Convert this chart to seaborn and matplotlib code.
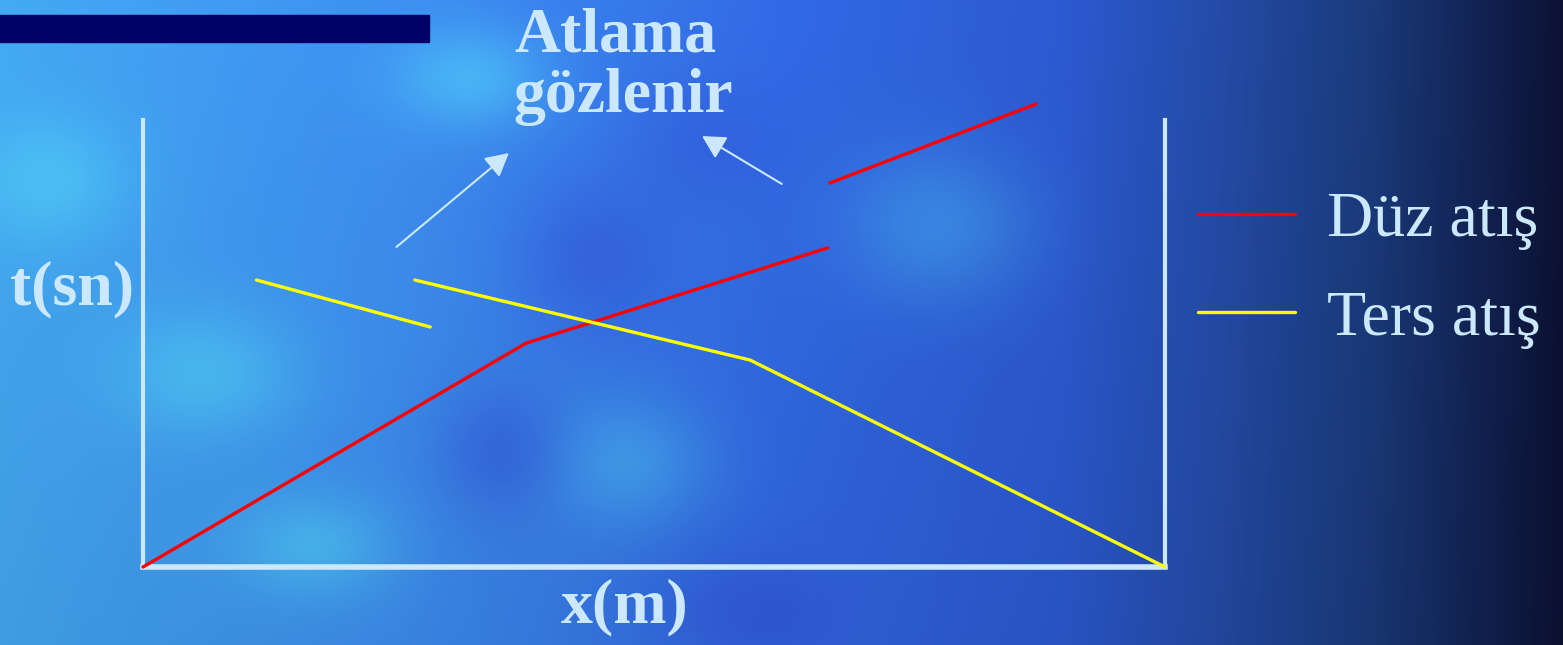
import numpy as np
import pandas as pd
import matplotlib
matplotlib.use("Agg")
import matplotlib.pyplot as plt
from matplotlib.patches import Rectangle
from matplotlib.lines import Line2D
import seaborn as sns

# ---- data (chart units: x 0..100 along x(m), t 0..100 along t(sn)) ----
duz_x1 = [0.0, 37.5, 67.0]
duz_t1 = [0.0, 50.1, 71.4]
duz_x2 = [67.2, 87.4]
duz_t2 = [85.9, 103.6]
ters_x1 = [11.1, 28.1]
ters_t1 = [64.2, 53.7]
ters_x2 = [26.6, 59.4, 100.0]
ters_t2 = [64.2, 46.3, 0.0]
series_labels = ["Düz atış", "Ters atış"]
x_label = "x(m)"
y_label = "t(sn)"
note_lines = ["Atlama", "gözlenir"]
arrow1_from = (24.8, 71.6)
arrow1_to = (35.8, 92.6)
arrow2_from = (62.5, 85.7)
arrow2_to = (54.7, 96.4)

TXT = "#cce8ff"
RED = "#ff0000"
YEL = "#ffff00"

sns.set_theme(style="white")
plt.rcParams["font.family"] = ["Liberation Serif", "DejaVu Serif"]

W, H = 1563, 645
fig = plt.figure(figsize=(W / 100, H / 100), dpi=100)

# ---- background (decorative gradient) ----
ax_bg = fig.add_axes([0, 0, 1, 1])
ax_bg.set_axis_off()
nx, ny = 520, 215
gx = np.linspace(0, 1, nx)
gy = np.linspace(0, 1, ny)
X, Y = np.meshgrid(gx, gy)
stops = [0.0, 0.25, 0.5, 0.68, 0.78, 0.88, 0.95, 1.0]
cr = [0x44, 0x3e, 0x32, 0x2c, 0x24, 0x1a, 0x12, 0x0c]
cg = [0xaa, 0x90, 0x6a, 0x5a, 0x4c, 0x3a, 0x22, 0x12]
cb = [0xf4, 0xf2, 0xe6, 0xd2, 0xa8, 0x7a, 0x52, 0x34]
img = np.zeros((ny, nx, 3))
for i, c in enumerate([cr, cg, cb]):
    img[:, :, i] = np.interp(X, stops, c) / 255.0

def blob(cx, cy, sx, sy):
    return np.exp(-(((X - cx) / sx) ** 2 + ((Y - cy) / sy) ** 2))

light = (blob(0.03, 0.28, 0.05, 0.1) + blob(0.13, 0.58, 0.06, 0.1)
         + blob(0.2, 0.85, 0.05, 0.08) + blob(0.3, 0.12, 0.05, 0.08)
         + blob(0.6, 0.35, 0.06, 0.12) * 0.6 + blob(0.4, 0.72, 0.05, 0.1) * 0.7)
dark = (blob(0.38, 0.4, 0.05, 0.12) + blob(0.32, 0.7, 0.04, 0.1)
        + blob(0.48, 0.95, 0.06, 0.1) + blob(0.45, 0.22, 0.05, 0.1) * 0.7)
cyan = np.array([0.33, 0.85, 1.0])
deep = np.array([0.2, 0.3, 0.85])
la = np.clip(light * 0.55, 0, 0.6)[:, :, None]
da = np.clip(dark * 0.45, 0, 0.5)[:, :, None]
img = img * (1 - la) + cyan * la
img = img * (1 - da) + deep * da
img = np.clip(img * (1.0 - 0.08 * Y)[:, :, None], 0, 1)
ax_bg.imshow(img, extent=[0, 1, 0, 1], aspect="auto", origin="upper", zorder=0)
ax_bg.set_xlim(0, 1)
ax_bg.set_ylim(0, 1)
ax_bg.add_patch(Rectangle((0, 1 - 42 / H), 429 / W, 27 / H, color="#000066", zorder=2))

# ---- chart ----
left, right = 143 / W, 1165 / W
bottom, top = 1 - 567 / H, 1 - 120 / H
ax = fig.add_axes([left, bottom, right - left, top - bottom])
ax.set_facecolor("none")

rows = []
for xs, ts, lab, seg in [
    (duz_x1, duz_t1, series_labels[0], "d1"),
    (duz_x2, duz_t2, series_labels[0], "d2"),
    (ters_x1, ters_t1, series_labels[1], "t1"),
    (ters_x2, ters_t2, series_labels[1], "t2"),
]:
    for xv, tv in zip(xs, ts):
        rows.append({"x": xv, "t": tv, "seri": lab, "seg": seg})
df = pd.DataFrame(rows)

sns.lineplot(data=df, x="x", y="t", hue="seri", units="seg", estimator=None,
             sort=False, palette={series_labels[0]: RED, series_labels[1]: YEL},
             linewidth=2.4, legend=False, ax=ax)
for ln in ax.lines:
    ln.set_clip_on(False)
    ln.set_zorder(5)

ax.set_xlim(0, 100)
ax.set_ylim(0, 100)
ax.set_xticks([])
ax.set_yticks([])
ax.set_xlabel("")
ax.set_ylabel("")
ax.spines["top"].set_visible(False)
for s, lw in [("left", 3), ("right", 3), ("bottom", 4)]:
    ax.spines[s].set_color(TXT)
    ax.spines[s].set_linewidth(lw)
    ax.spines[s].set_visible(True)

for a_from, a_to in [(arrow1_from, arrow1_to), (arrow2_from, arrow2_to)]:
    ax.annotate("", xy=a_to, xytext=a_from, annotation_clip=False,
                arrowprops=dict(arrowstyle="-|>,head_length=0.5,head_width=0.27",
                                color=TXT, lw=1.5,
                                mutation_scale=28, shrinkA=0, shrinkB=0))

# ---- texts ----
fig.text(615 / W, 1 - 52 / H, note_lines[0], ha="center", va="baseline", color=TXT,
         fontsize=46, fontweight="bold")
fig.text(623 / W, 1 - 112 / H, note_lines[1], ha="center", va="baseline", color=TXT,
         fontsize=46, fontweight="bold")
fig.text(72 / W, 1 - 304 / H, y_label, ha="center", va="baseline", color=TXT,
         fontsize=46, fontweight="bold")
fig.text(625 / W, 1 - 622 / H, x_label, ha="center", va="baseline", color=TXT,
         fontsize=46, fontweight="bold")

handles = [Line2D([], [], color=RED, lw=2.4), Line2D([], [], color=YEL, lw=2.4)]
leg = fig.legend(handles, series_labels, loc="center left",
                 bbox_to_anchor=(1198 / W, 1 - 270 / H), frameon=False,
                 fontsize=46, handlelength=1.52, handletextpad=0.5,
                 labelspacing=0.63, borderpad=0, borderaxespad=0)
for t in leg.get_texts():
    t.set_color(TXT)

fig.savefig("out.png", dpi=100)
